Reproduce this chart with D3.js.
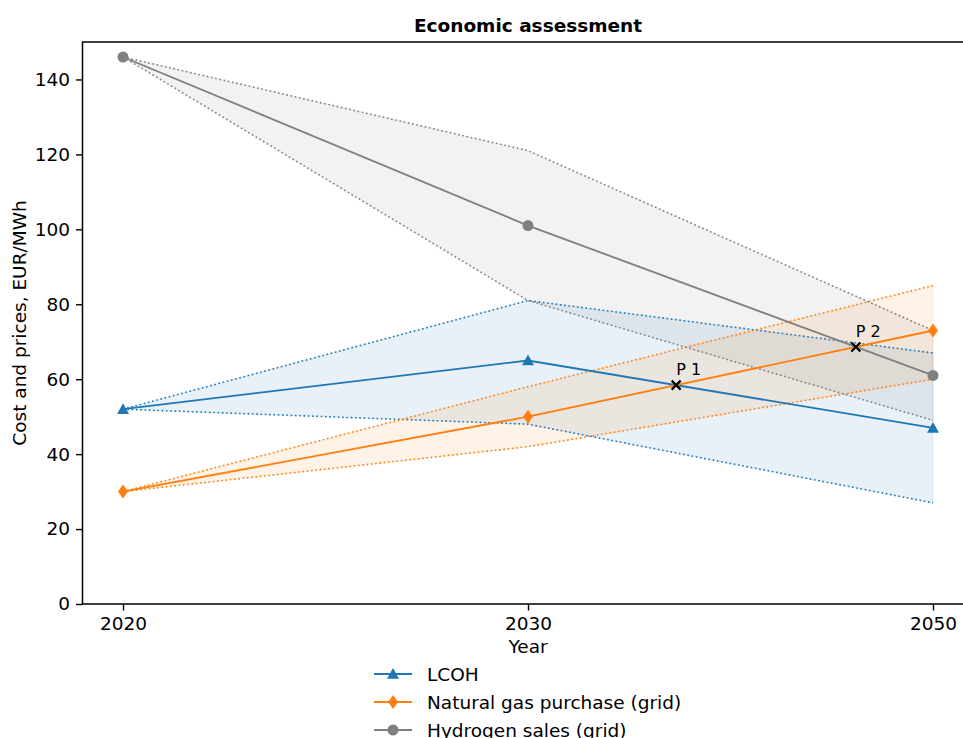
<!DOCTYPE html>
<html><head><meta charset="utf-8">
<script src="https://cdn.jsdelivr.net/npm/d3@7"></script>
<style>body{margin:0;background:#fff}svg{display:block;font-family:"DejaVu Sans",sans-serif}</style>
</head><body><svg id="c" width="963" height="738"></svg>
<script>
const years = ["2020", "2030", "2050"];
const yTicks = [0, 20, 40, 60, 80, 100, 120, 140];
const lcoh = [52, 65, 47];
const lcohLow = [52, 48, 27];
const lcohHigh = [52, 81, 67];
const gas = [30, 50, 73];
const gasLow = [30, 42, 60];
const gasHigh = [30, 58, 85];
const h2 = [146, 101, 61];
const h2Low = [146, 81, 49];
const h2High = [146, 121, 73];
const seriesNames = ["LCOH", "Natural gas purchase (grid)", "Hydrogen sales (grid)"];
const pointLabels = ["P 1", "P 2"];

const series = [
  {name: seriesNames[0], v: lcoh, lo: lcohLow, hi: lcohHigh, color: "#1f77b4", marker: "tri"},
  {name: seriesNames[1], v: gas, lo: gasLow, hi: gasHigh, color: "#ff7f0e", marker: "dia"},
  {name: seriesNames[2], v: h2, lo: h2Low, hi: h2High, color: "#808080", marker: "circ"}
];

const svg = d3.select("#c");
const L = 82.5, R = 973.5, T = 42, B = 604;
const x = d3.scaleLinear().domain([-0.1, 2.1]).range([L, R]);
const y = d3.scaleLinear().domain([0, 150]).range([B, T]);
const FS = 18.5;

// bands
const area = d3.area().x((d, i) => x(i)).y0(d => y(d[0])).y1(d => y(d[1]));
series.forEach(s => {
  const data = s.lo.map((d, i) => [d, s.hi[i]]);
  svg.append("path").attr("d", area(data)).attr("fill", s.color).attr("fill-opacity", 0.1)
    .attr("stroke", s.color).attr("stroke-opacity", 0.1).attr("stroke-width", 1);
});
const line = d3.line().x((d, i) => x(i)).y(d => y(d));
series.forEach(s => {
  [s.lo, s.hi].forEach(arr => {
    svg.append("path").attr("d", line(arr)).attr("fill", "none").attr("stroke", s.color)
      .attr("stroke-width", 1.6).attr("stroke-dasharray", "1.6,2.7");
  });
});

function drawMarker(g, type, cx, cy, color) {
  if (type === "circ") {
    g.append("circle").attr("cx", cx).attr("cy", cy).attr("r", 5.5).attr("fill", color);
  } else if (type === "tri") {
    const r = 6;
    g.append("path").attr("d", `M${cx},${cy - r} L${cx + r},${cy + r * 0.8} L${cx - r},${cy + r * 0.8}Z`).attr("fill", color);
  } else {
    const h = 7, w = 5;
    g.append("path").attr("d", `M${cx},${cy - h} L${cx + w},${cy} L${cx},${cy + h} L${cx - w},${cy}Z`).attr("fill", color);
  }
}

series.forEach(s => {
  svg.append("path").attr("d", line(s.v)).attr("fill", "none").attr("stroke", s.color).attr("stroke-width", 1.85);
  s.v.forEach((d, i) => drawMarker(svg, s.marker, x(i), y(d), s.color));
});

// intersection points between segment 2030-2050
function intersect(a, b) {
  const t = (a[1] - b[1]) / ((b[2] - b[1]) - (a[2] - a[1]));
  return [1 + t, a[1] + (a[2] - a[1]) * t];
}
const pts = [intersect(lcoh, gas), intersect(h2, gas)];
pts.forEach((p, i) => {
  const px = x(p[0]), py = y(p[1]), r = 4.5;
  svg.append("path").attr("d", `M${px - r},${py - r}L${px + r},${py + r}M${px - r},${py + r}L${px + r},${py - r}`)
    .attr("stroke", "#000").attr("stroke-width", 2.2);
  svg.append("text").attr("x", px).attr("y", py - 10).attr("font-size", 16).attr("fill", "#000").text(pointLabels[i]);
});

// axes
const yAxis = d3.axisLeft(y).tickValues(yTicks).tickSize(6.5).tickPadding(6);
const gy = svg.append("g").attr("transform", `translate(${L},0)`).call(yAxis);
const xAxis = d3.axisBottom(x).tickValues([0, 1, 2]).tickFormat(i => years[i]).tickSize(6.5).tickPadding(6);
const gx = svg.append("g").attr("transform", `translate(0,${B})`).call(xAxis);
[gx, gy].forEach(g => {
  g.selectAll("text").attr("font-size", FS).attr("fill", "#000").attr("font-family", "DejaVu Sans");
  g.selectAll("line").attr("stroke", "#000").attr("stroke-width", 1.4);
  g.select(".domain").remove();
});
// spines
svg.append("rect").attr("x", L).attr("y", T).attr("width", R - L).attr("height", B - T)
  .attr("fill", "none").attr("stroke", "#000").attr("stroke-width", 1.5);

// titles
svg.append("text").attr("x", (L + R) / 2).attr("y", 32).attr("text-anchor", "middle")
  .attr("font-size", FS).attr("font-weight", "bold").text("Economic assessment");
svg.append("text").attr("x", (L + R) / 2).attr("y", 653).attr("text-anchor", "middle")
  .attr("font-size", FS).text("Year");
svg.append("text").attr("transform", `translate(26,${(T + B) / 2}) rotate(-90)`).attr("text-anchor", "middle")
  .attr("font-size", FS).text("Cost and prices, EUR/MWh");

// legend
series.forEach((s, i) => {
  const ly = 674 + i * 28;
  const g = svg.append("g");
  g.append("line").attr("x1", 374).attr("x2", 412).attr("y1", ly).attr("y2", ly).attr("stroke", s.color).attr("stroke-width", 1.85);
  drawMarker(g, s.marker, 393, ly, s.color);
  g.append("text").attr("x", 427).attr("y", ly + 6.5).attr("font-size", FS).text(s.name);
});
</script></body></html>
